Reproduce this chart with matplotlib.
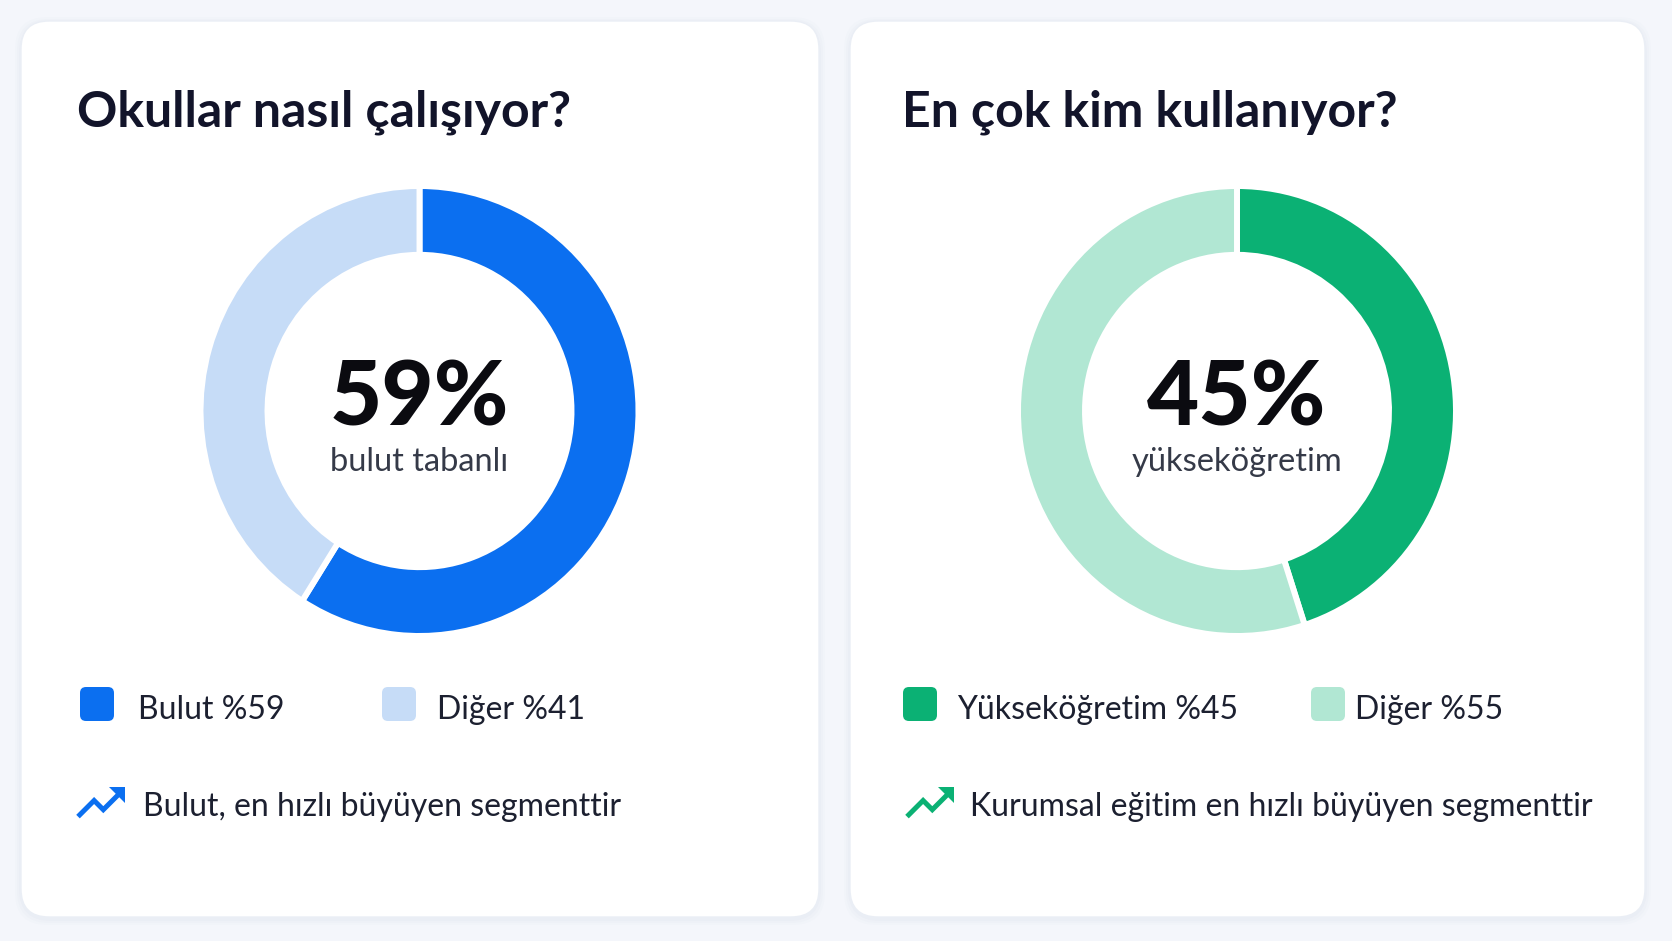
import matplotlib.pyplot as plt
from matplotlib.patches import FancyBboxPatch

# ---- data ----
titles = ["Okullar nasıl çalışıyor?", "En çok kim kullanıyor?"]
shares = [[59, 41], [45, 55]]
center_labels = ["59%", "45%"]
center_subs = ["bulut tabanlı", "yükseköğretim"]
legend_labels = [["Bulut %59", "Diğer %41"], ["Yükseköğretim %45", "Diğer %55"]]
notes = ["Bulut, en hızlı büyüyen segmenttir",
         "Kurumsal eğitim en hızlı büyüyen segmenttir"]
colors = [["#0B6FF0", "#C6DCF7"], ["#0BB174", "#B1E7D3"]]

W, H = 1672, 941
plt.rcParams['font.family'] = ['Lato', 'DejaVu Sans']

fig = plt.figure(figsize=(W / 100, H / 100), dpi=100)
fig.patch.set_facecolor("#F4F6FB")
ax = fig.add_axes([0, 0, 1, 1])
ax.set_xlim(0, W)
ax.set_ylim(H, 0)
ax.axis("off")

cards_x = [21, 850]
card_w = [798, 795]
card_y, card_h = 21, 896
donut_cx = [419.5, 1237]
donut_cy = 411
Rx, Ry = 219, 225
ring = 0.306

for i in range(2):
    x0 = cards_x[i]
    # soft shadow
    for k, a in enumerate([0.025, 0.03, 0.04]):
        s = 6 - 2 * k
        ax.add_patch(FancyBboxPatch((x0 - s, card_y - s + 2), card_w[i] + 2 * s, card_h + 2 * s,
                                    boxstyle="round,pad=0,rounding_size=32",
                                    fc="#9AA8C8", ec="none", alpha=a))
    ax.add_patch(FancyBboxPatch((x0, card_y), card_w[i], card_h,
                                boxstyle="round,pad=0,rounding_size=28",
                                fc="white", ec="#EAEEF5", lw=1))

    tx = x0 + (56 if i == 0 else 52)
    ax.text(tx, 126, titles[i], fontsize=36, fontweight="bold", color="#12142A",
            ha="left", va="baseline")

    # donut
    cx = donut_cx[i]
    pax = fig.add_axes([(cx - Rx) / W, 1 - (donut_cy + Ry) / H, 2 * Rx / W, 2 * Ry / H])
    pax.pie(shares[i], colors=colors[i], startangle=90, counterclock=False,
            wedgeprops=dict(width=ring, edgecolor="white", linewidth=4.3))
    pax.set_xlim(-1, 1)
    pax.set_ylim(-1, 1)
    pax.set_aspect("auto")
    pax.axis("off")

    ax.text(cx, 426, center_labels[i], fontsize=65, fontweight="black", color="#0B0B10",
            ha="center", va="baseline")
    ax.text(cx, 471, center_subs[i], fontsize=23.5, color="#353A48",
            ha="center", va="baseline")

    # legend
    sq = 34
    lx = [x0 + 59, x0 + 361] if i == 0 else [x0 + 53, x0 + 461]
    tdx = [[24, 21], [20, 10]][i]
    for j in range(2):
        ax.add_patch(FancyBboxPatch((lx[j], 687), sq, sq,
                                    boxstyle="round,pad=0,rounding_size=6",
                                    fc=colors[i][j], ec="none"))
        ax.text(lx[j] + sq + tdx[j], 710, legend_labels[i][j], fontsize=23,
                color="#1C2030", ha="left", va="center")

    # trend icon
    ix, iy, sc = x0 + 57, 787, 2.3
    px = [2, 9, 13, 20]
    py = [18, 11, 15, 8]
    ax.plot([ix + (p - 2) * sc for p in px], [iy + (q - 6) * sc + 2 for q in py],
            color=colors[i][0], lw=3.6, solid_capstyle="butt", solid_joinstyle="miter")
    hx = [15.5, 22.5, 22.5]
    hy = [5.5, 5.5, 12.5]
    ax.fill([ix + (p - 2) * sc for p in hx], [iy + (q - 6) * sc + 1 for q in hy],
            color=colors[i][0], lw=0)
    ax.text(x0 + (122 if i == 0 else 120), 807, notes[i], fontsize=23,
            color="#1C2030", ha="left", va="center")

fig.savefig("out.png", dpi=100, facecolor=fig.get_facecolor())
